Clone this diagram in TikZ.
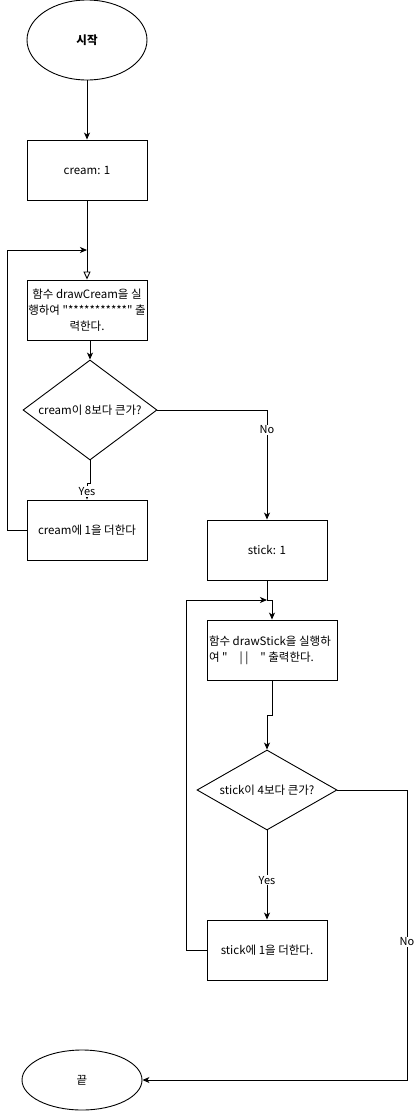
\documentclass[tikz,border=0pt]{standalone}
\usepackage{fontspec}
\setmainfont{Noto Sans CJK KR}[Ligatures=TeXOff]
\usetikzlibrary{shapes.geometric,arrows.meta}
\begin{document}
\begin{tikzpicture}[x=1pt,y=-1pt,
  line width=0.9pt,
  every node/.style={font=\fontsize{11.5}{16}\selectfont},
  proc/.style={draw,rectangle,minimum width=120pt,minimum height=60pt,inner sep=0pt,align=center},
  term/.style={draw,ellipse,minimum width=120pt,minimum height=60pt,inner sep=0pt},
  decide/.style={draw,diamond,inner sep=0pt},
  flow/.style={-{Stealth[length=7pt,width=6pt,inset=2pt]}},
  openflow/.style={-{Triangle[open,length=8pt,width=7pt]}},
  lbl/.style={fill=white,inner sep=1pt,font=\fontsize{11}{13}\selectfont}]
\useasboundingbox (0,0) rectangle (416,1111);

% nodes
\node[term,minimum height=80pt] (start) at (87,40) {\textbf{시작}};
\node[proc] (cream1) at (87,170) {cream: 1};
\node[proc] (drawc) at (87,310) {함수 drawCream을 실\\행하여 "***********" 출\\력한다.};
\node[decide,minimum width=134pt,minimum height=100pt] (d1) at (90,410) {};
\node at (d1) {cream이 8보다 큰가?};
\node[proc] (addc) at (87,530) {cream에 1을 더한다};

\node[proc] (stick1) at (267,550) {stick: 1};
\node[proc,minimum width=130pt,align=left] (draws) at (272,650)
  {\parbox{126pt}{함수 drawStick을 실행하\\여 "\hspace{12pt}| |\hspace{12pt}" 출력한다.}};
\node[decide,minimum width=140pt,minimum height=80pt] (d2) at (267,790) {};
\node at (d2) {stick이 4보다 큰가?};
\node[proc] (adds) at (267,950) {stick에 1을 더한다.};
\node[term] (end) at (82,1080) {끝};

% junction points of the loops
\coordinate (j1) at (87,250);
\coordinate (j2) at (267,600);

% connectors: first loop
\draw[flow] (start) -- (cream1);
\draw[openflow] (cream1) -- (drawc);
\draw[flow] (addc.west) -- ++(-19,0) |- (j1);
\draw[flow] (d1.north |- drawc.south) -- (d1.north);
\draw[flow] (d1.east) -| node[lbl,pos=0.59] {No} (stick1.north);
\draw[flow] (d1.south) -- ++(0,23) -| node[lbl,pos=0.75] {Yes} (addc.north);

% connectors: second loop
\draw[flow] (stick1.south) -- (j2) -| (draws.north);
\draw[flow] (adds.west) -- ++(-20,0) |- (j2);
\draw[flow] (draws.south) -- ++(0,35) -| (d2.north);
\draw[flow] (d2.south) -- node[lbl,pos=0.56] {Yes} (adds.north);
\draw[flow] (d2.east) -| node[lbl,pos=0.762] {No} (407,1080) -- (end.east);
\end{tikzpicture}
\end{document}
